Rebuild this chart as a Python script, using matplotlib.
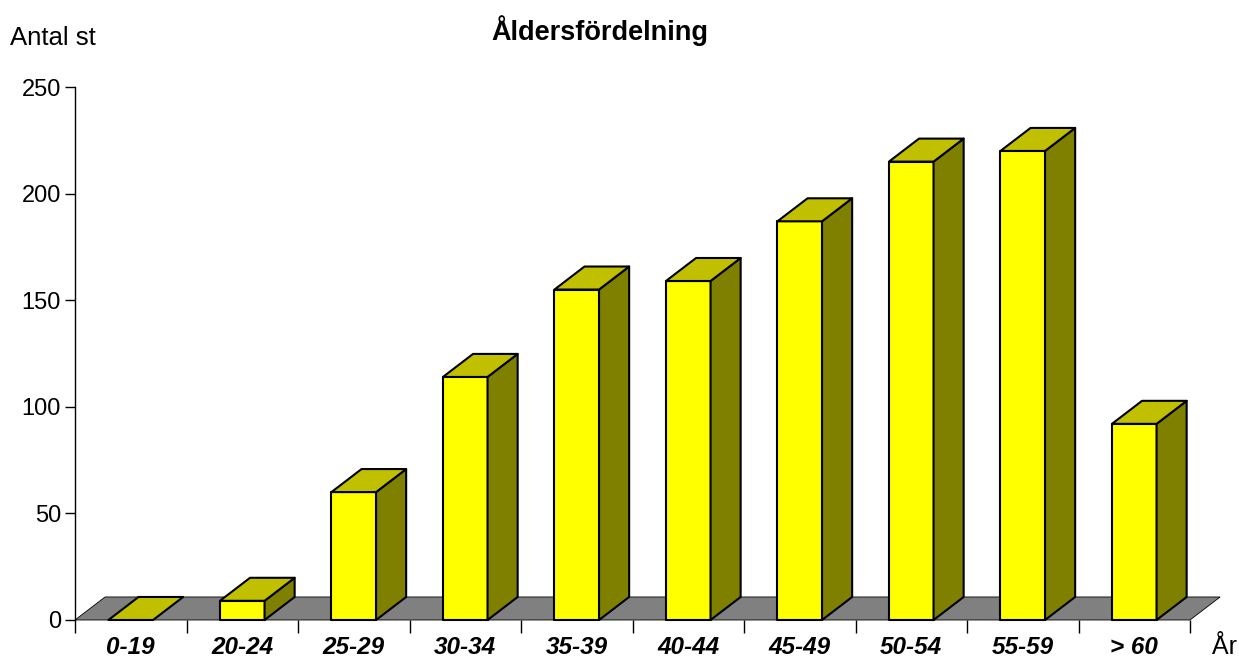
import matplotlib.pyplot as plt

# Data
CATEGORIES = ["0-19", "20-24", "25-29", "30-34", "35-39", "40-44", "45-49", "50-54", "55-59", "> 60"]
VALUES = [0, 9, 60, 114, 155, 159, 187, 215, 220, 92]
Y_TICKS = [0, 50, 100, 150, 200, 250]

# Colours and 3D depth
FRONT = "#FFFF00"
TOP = "#C0C000"
SIDE = "#808000"
FLOOR = "#808080"
BAR_WIDTH = 0.40
DX = 0.27   # depth in category units
DY = 10.8   # depth in value units

plt.rcParams["font.family"] = ["Liberation Sans", "DejaVu Sans"]

fig = plt.figure(figsize=(12.39, 6.61), dpi=100)
ax = fig.add_axes([75 / 1239, 41 / 661, 1115 / 1239, 533 / 661])
ax.set_xlim(0, len(CATEGORIES))
ax.set_ylim(0, 250)

# Floor
n = len(CATEGORIES)
ax.fill([0, n, n + DX, DX], [0, 0, DY, DY], facecolor=FLOOR, edgecolor="black",
        linewidth=0.6, clip_on=False, zorder=1)


def draw_bar(xc, h):
    x0, x1 = xc - BAR_WIDTH / 2, xc + BAR_WIDTH / 2
    kw = dict(edgecolor="black", linewidth=1.5, clip_on=False, zorder=2, joinstyle="round")
    if h > 0:
        ax.fill([x0, x1, x1, x0], [0, 0, h, h], facecolor=FRONT, **kw)
        ax.fill([x1, x1 + DX, x1 + DX, x1], [0, DY, h + DY, h], facecolor=SIDE, **kw)
    ax.fill([x0, x1, x1 + DX, x0 + DX], [h, h, h + DY, h + DY], facecolor=TOP, **kw)


for i, v in enumerate(VALUES):
    draw_bar(i + 0.5, v)

# Axes styling
for s in ["top", "right", "bottom"]:
    ax.spines[s].set_visible(False)
ax.spines["left"].set_linewidth(1.0)
ax.set_yticks(Y_TICKS)
ax.set_yticklabels([str(t) for t in Y_TICKS], fontsize=17)
ax.tick_params(axis="y", direction="out", length=7, width=1, pad=3)

ax.set_xticks(range(n + 1))
ax.set_xticklabels([])
ax.tick_params(axis="x", direction="out", length=9, width=1)
for i, c in enumerate(CATEGORIES):
    ax.text(i + 0.5, -13, c, ha="center", va="center", fontsize=17.5,
            fontweight="bold", fontstyle="italic")

fig.text(600 / 1239, 1 - 31 / 661, "Åldersfördelning", ha="center", va="center",
         fontsize=19.5, fontweight="bold")
fig.text(10 / 1239, 1 - 38 / 661, "Antal st", ha="left", va="center", fontsize=18.5)
fig.text(1212 / 1239, 1 - 647 / 661, "År", ha="left", va="center", fontsize=18)

fig.savefig("out.png", dpi=100)
